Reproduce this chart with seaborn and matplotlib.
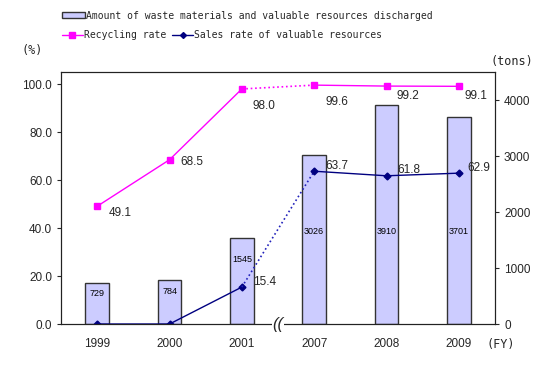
import matplotlib
matplotlib.use("Agg")
import matplotlib.pyplot as plt
import seaborn as sns
import pandas as pd
from matplotlib.patches import Patch
from matplotlib.lines import Line2D

# Data
years = ["1999", "2000", "2001", "2007", "2008", "2009"]
discharged = [729, 784, 1545, 3026, 3910, 3701]       # tons
recycling_rate = [49.1, 68.5, 98.0, 99.6, 99.2, 99.1]  # %
sales_rate = [0.0, 0.0, 15.4, 63.7, 61.8, 62.9]        # %
left_ticks = [0, 20, 40, 60, 80, 100]
right_ticks = [0, 1000, 2000, 3000, 4000]

sns.set_style("white")
plt.rcParams['font.family'] = ['Liberation Sans', 'DejaVu Sans']

MAGENTA = "#ff00ff"
NAVY = "#000080"
BAR = "#ccccff"
MONO = "DejaVu Sans Mono"

fig = plt.figure(figsize=(5.5, 3.72), dpi=100)
ax = fig.add_axes([0.111, 0.129, 0.789, 0.677])
ax2 = ax.twinx()

# bars on the right (tons) axis
df = pd.DataFrame({"year": years, "tons": discharged})
sns.barplot(data=df, x="year", y="tons", ax=ax2, color=BAR, width=0.33,
            edgecolor="#333333", linewidth=1, saturation=1)
for i, v in enumerate(discharged):
    ax2.text(i, min(v * 0.75, 1650), str(v), ha="center", va="center",
             fontsize=6.5, color="black")

# lines on the left (%) axis, dotted across the break
x = list(range(len(years)))
for vals, col, dcol, mk, ms in [(recycling_rate, MAGENTA, MAGENTA, "s", 5),
                                (sales_rate, NAVY, "#2222bb", "D", 3.5)]:
    ax.plot(x[:3], vals[:3], color=col, lw=1, marker=mk, ms=ms)
    ax.plot(x[2:4], vals[2:4], color=dcol, lw=1.2, ls=":")
    ax.plot(x[3:], vals[3:], color=col, lw=1, marker=mk, ms=ms)

rec_off = [(8, -5), (8, -2), (8, -12), (8, -12), (7, -7), (4, -7)]
sal_off = [None, None, (8, 4), (8, 4), (8, 4), (6, 4)]
for i, v in enumerate(recycling_rate):
    ax.annotate(f"{v:.1f}", (i, v), xytext=rec_off[i], textcoords="offset points",
                fontsize=8.5, ha="left", va="center")
for i, v in enumerate(sales_rate):
    if sal_off[i] is not None:
        ax.annotate(f"{v:.1f}", (i, v), xytext=sal_off[i], textcoords="offset points",
                    fontsize=8.5, ha="left", va="center")

ax.set_zorder(ax2.get_zorder() + 1)
ax.patch.set_visible(False)

ax.set_xlim(-0.5, len(years) - 0.5)
ax.set_ylim(0, 105)
ax2.set_ylim(0, 4500)
ax.set_yticks(left_ticks)
ax.set_yticklabels([f"{t:.1f}" for t in left_ticks], fontsize=8.5)
ax2.set_yticks(right_ticks)
ax2.set_yticklabels([str(t) for t in right_ticks], fontsize=8.5)
ax.set_xticks(x)
ax.set_xticklabels(years, fontsize=8.5)
ax.set_xticks([i + 0.5 for i in x[:-1]], minor=True)
ax.tick_params(axis="x", which="major", length=0, pad=10)
ax.tick_params(axis="x", which="minor", direction="in", length=3, width=0.8)
ax.tick_params(axis="y", length=3, width=0.8, direction="out", left=True)
ax2.tick_params(axis="y", length=3, width=0.8, direction="out", right=True)
ax2.set_xlabel("")
ax2.set_ylabel("")
ax.set_xlabel("")
ax.set_ylabel("")
for a in (ax, ax2):
    for s in a.spines.values():
        s.set_color("#222222")
        s.set_linewidth(0.8)

# axis break mark
ax.text(2.5, 0, "((", ha="center", va="center", fontsize=12, style="italic",
        clip_on=False, zorder=10,
        bbox=dict(facecolor="white", edgecolor="none", pad=0.5))

fig.text(0.04, 0.865, "(%)", fontsize=8.5, family=MONO, ha="left", va="center")
fig.text(0.93, 0.835, "(tons)", fontsize=8.5, family=MONO, ha="center", va="center")
fig.text(0.885, 0.075, "(FY)", fontsize=8.5, family=MONO, ha="left", va="center")

leg1 = fig.legend(handles=[Patch(facecolor=BAR, edgecolor="#333333", lw=1)],
                  labels=["Amount of waste materials and valuable resources discharged"],
                  loc="center left", bbox_to_anchor=(0.105, 0.958), frameon=False,
                  prop={"family": MONO, "size": 7}, handlelength=2.4, handleheight=0.6,
                  handletextpad=0.1, borderaxespad=0)
leg2 = fig.legend(handles=[Line2D([], [], color=MAGENTA, marker="s", ms=4, lw=1),
                           Line2D([], [], color=NAVY, marker="D", ms=3, lw=1)],
                  labels=["Recycling rate", "Sales rate of valuable resources"],
                  loc="center left", bbox_to_anchor=(0.105, 0.905), frameon=False, ncol=2,
                  prop={"family": MONO, "size": 7}, handlelength=2.2,
                  handletextpad=0.1, columnspacing=0.6, borderaxespad=0)

fig.savefig("out.png", dpi=100)
